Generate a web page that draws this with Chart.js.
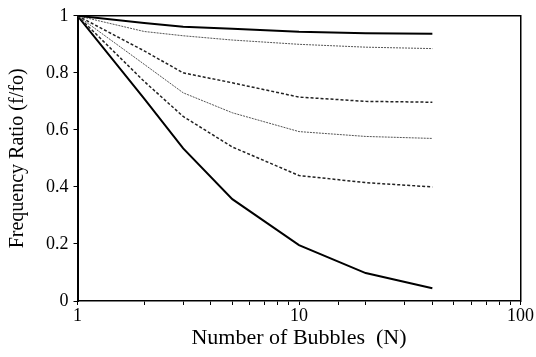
<!DOCTYPE html>
<html>
<head>
<meta charset="utf-8">
<script src="https://cdn.jsdelivr.net/npm/chart.js@4/dist/chart.umd.min.js"></script>
<style>
  html, body { margin: 0; padding: 0; background: #fff; }
  #wrap { width: 536px; height: 357px; }
</style>
</head>
<body>
<div id="wrap"><canvas id="ratio_chart"></canvas></div>
<script>
// number of bubbles (N)
const bubbles = [1, 2, 3, 5, 10, 20, 40];

// frequency ratio f/fo, top curve to bottom curve
const curveA = [1, 0.975, 0.962, 0.955, 0.944, 0.939, 0.937];
const curveB = [1, 0.945, 0.93, 0.915, 0.9, 0.89, 0.885];
const curveC = [1, 0.877, 0.8, 0.765, 0.715, 0.7, 0.697];
const curveD = [1, 0.83, 0.73, 0.66, 0.594, 0.577, 0.57];
const curveE = [1, 0.77, 0.647, 0.54, 0.44, 0.415, 0.4];
const curveF = [1, 0.71, 0.535, 0.357, 0.196, 0.098, 0.045];

const xTickLabels = [1, 10, 100];
const yTicks = [0, 0.2, 0.4, 0.6, 0.8, 1];

function points(values) {
    return values.map((v, i) => ({ x: bubbles[i], y: v }));
}

function line(values, color, width, dash) {
    return {
        data: points(values),
        borderColor: color,
        borderWidth: width,
        borderDash: dash,
        pointRadius: 0,
        tension: 0,
        fill: false
    };
}

const serif = "'Liberation Serif', 'DejaVu Serif', serif";

new Chart(document.getElementById('ratio_chart'), {
    type: 'line',
    data: {
        datasets: [
            line(curveA, '#000', 2, []),
            line(curveB, '#555', 1, [2, 1]),
            line(curveC, '#222', 1.5, [3, 2]),
            line(curveD, '#555', 1, [2, 1]),
            line(curveE, '#222', 1.5, [3, 2]),
            line(curveF, '#000', 2, [])
        ]
    },
    options: {
        responsive: true,
        maintainAspectRatio: false,
        animation: false,
        layout: { padding: { left: 4, right: 2, top: 3, bottom: 8 } },
        plugins: {
            legend: { display: false },
            tooltip: { enabled: false }
        },
        scales: {
            x: {
                type: 'logarithmic',
                min: 1,
                max: 100,
                grid: { drawOnChartArea: false, drawTicks: true, tickLength: 4, color: '#000', lineWidth: 1 },
                border: { color: '#000', width: 1.5 },
                ticks: {
                    autoSkip: false,
                    maxRotation: 0,
                    padding: 2,
                    color: '#000',
                    font: { family: serif, size: 18, lineHeight: 1 },
                    callback: (v) => xTickLabels.includes(v) ? String(v) : ''
                },
                title: {
                    display: true,
                    text: 'Number of Bubbles  (N)',
                    color: '#000',
                    font: { family: serif, size: 22, lineHeight: 1 },
                    padding: { top: 0, bottom: 0 }
                }
            },
            y: {
                min: 0,
                max: 1,
                afterBuildTicks: (scale) => { scale.ticks = yTicks.map(v => ({ value: v })); },
                grid: { drawOnChartArea: false, drawTicks: true, tickLength: 4, color: '#000', lineWidth: 1 },
                border: { color: '#000', width: 2 },
                ticks: {
                    padding: 5,
                    color: '#000',
                    font: { family: serif, size: 18 },
                    callback: (v) => String(v)
                },
                title: {
                    display: true,
                    text: 'Frequency Ratio (f/fo)',
                    color: '#000',
                    font: { family: serif, size: 20 },
                    padding: { top: 2, bottom: 11 }
                }
            },
            xTop: {
                type: 'logarithmic',
                position: 'top',
                min: 1,
                max: 100,
                grid: { display: false },
                border: { color: '#000', width: 1.5 },
                ticks: { display: false }
            },
            yRight: {
                position: 'right',
                min: 0,
                max: 1,
                grid: { display: false },
                border: { color: '#000', width: 1.5 },
                ticks: { display: false }
            }
        }
    }
});
</script>
</body>
</html>
